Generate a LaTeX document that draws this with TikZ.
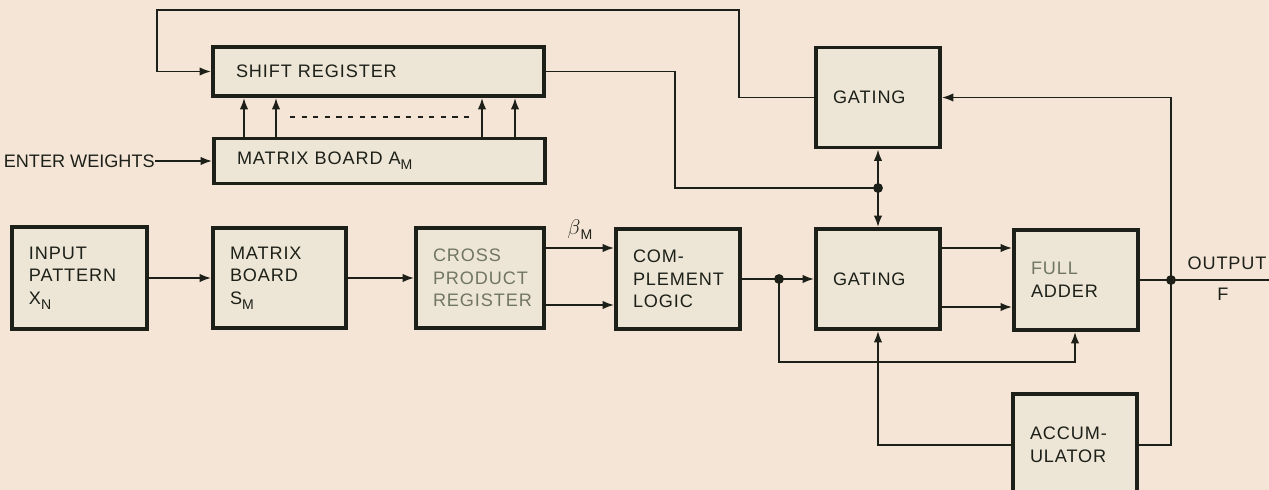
\documentclass[tikz,border=0pt]{standalone}
\usepackage{fontspec}
\setmainfont{Liberation Sans}[LetterSpace=5]
\usetikzlibrary{arrows.meta,calc}

\definecolor{paper}{RGB}{245,229,214}
\definecolor{boxfill}{RGB}{237,229,213}
\definecolor{ink}{RGB}{28,32,24}
\definecolor{fade}{RGB}{112,118,98}

\newcommand{\lowsub}[1]{\raisebox{-0.55ex}{\footnotesize #1}}

\begin{document}
\begin{tikzpicture}[
  x=0.2mm,
  y=-0.2mm,
  block/.style={
    draw=ink,
    line width=2.2pt,
    fill=boxfill,
    text=ink,
    align=left,
    font=\fontsize{10.3}{12.8}\selectfont,
    inner xsep=0.34cm,
    text width=1.8cm,
    minimum height=2cm
  },
  wide/.style={
    inner xsep=0.46cm,
    text width=5.7cm
  },
  wire/.style={
    draw=ink,
    line width=1pt
  },
  feed/.style={
    wire,
    -{Latex[length=2.3mm,width=1.7mm]}
  },
  tag/.style={
    text=ink,
    font=\fontsize{10.3}{12.8}\selectfont
  }
]

  % page
  \useasboundingbox (0,0) rectangle (1269,490);
  \clip (0,0) rectangle (1269,490);
  \fill[paper] (0,0) rectangle (1269,490);

  % upper row
  \node[block,wide,minimum height=0.98cm] (shreg) at (378.5,71.5) {SHIFT REGISTER};
  \node[block,wide,minimum height=0.9cm] (mam) at (379.5,161) {MATRIX BOARD A\lowsub{M}};
  \node[block] (gtop) at (878,97.5) {GATING};

  % main row
  \node[block,text width=2.02cm,minimum height=2.04cm] (inp) at (79.5,278) {INPUT\\PATTERN\\X\lowsub{N}};
  \node[block,text width=1.98cm] (msm) at (279.5,278) {MATRIX\\BOARD\\S\lowsub{M}};
  \node[block,text width=1.88cm,text=fade] (cpr) at (480,278) {CROSS\\PRODUCT\\REGISTER};
  \node[block] (cml) at (678,279) {COM-\\PLEMENT\\LOGIC};
  \node[block] (gmain) at (878,279) {GATING};
  \node[block] (fadd) at (1076,280) {\textcolor{fade}{FULL}\\ADDER};
  \node[block,minimum height=2.04cm] (acc) at (1075,445) {ACCUM-\\ULATOR};

  % labels
  \node[tag,anchor=east,inner sep=0pt,font=\fontsize{10.3}{12.8}\selectfont\addfontfeature{LetterSpace=0}] (ew) at (155,161) {ENTER WEIGHTS};
  \node[tag] (outlbl) at (1227,263) {OUTPUT};
  \node[tag] (flbl) at (1223,294) {F};

  % bends and junctions
  \coordinate (fbtop) at (739,10);
  \coordinate (fbleft) at (157,10);
  \coordinate (srbend) at (675,188);
  \coordinate (jtop) at (878,188);
  \coordinate (jleft) at (779,279);
  \coordinate (jright) at (1171,280);
  \coordinate (fbot) at (1075,362);
  \coordinate (outend) at (1269,280);

  % feedback to shift register
  \draw[feed] (gtop.west) -| (fbtop) -- (fbleft) |- (shreg.west);

  % shift register out
  \draw[wire] (shreg.east) -| (srbend) -- (jtop);
  \draw[feed] (jtop) -- (gtop.south);
  \draw[feed] (jtop) -- (gmain.north);

  % weights
  \draw[feed] (ew.east) -- (mam.west);
  \foreach \xx in {244,276,482,515}
    \draw[feed] (mam.north -| \xx,0) -- (shreg.south -| \xx,0);
  \draw[wire,line width=0.7pt,dash pattern=on 3pt off 3.6pt] (290,117) -- (469,117);

  % main chain
  \draw[feed] (inp.east) -- (msm.west);
  \draw[feed] (msm.east) -- (cpr.west);

  \coordinate (bu) at ($(cpr.east)+(0,-30)$);
  \coordinate (bl) at ($(cpr.east)+(0,27)$);
  \draw[feed] (bu) -- (bu -| cml.west)
    node[tag,midway,above=1pt] {\large$\beta$\normalsize\lowsub{M}};
  \draw[feed] (bl) -- (bl -| cml.west);

  \draw[feed] (cml.east) -- (gmain.west);
  \draw[feed] (jleft) |- (fbot) -- (fbot |- fadd.south);

  \coordinate (gu) at ($(gmain.east)+(0,-31)$);
  \coordinate (gl) at ($(gmain.east)+(0,28)$);
  \draw[feed] (gu) -- (gu -| fadd.west);
  \draw[feed] (gl) -- (gl -| fadd.west);

  % output and accumulator loop
  \draw[wire] (fadd.east) -- (fadd.east -| outend);
  \draw[feed] (acc.east) -| (jright) |- (gtop.east);
  \draw[feed] (acc.west) -| (gmain.south);

  % junction dots
  \fill[ink] (jtop) circle[radius=2.8pt];
  \fill[ink] (jleft) circle[radius=2.8pt];
  \fill[ink] (jright) circle[radius=2.8pt];

\end{tikzpicture}
\end{document}
